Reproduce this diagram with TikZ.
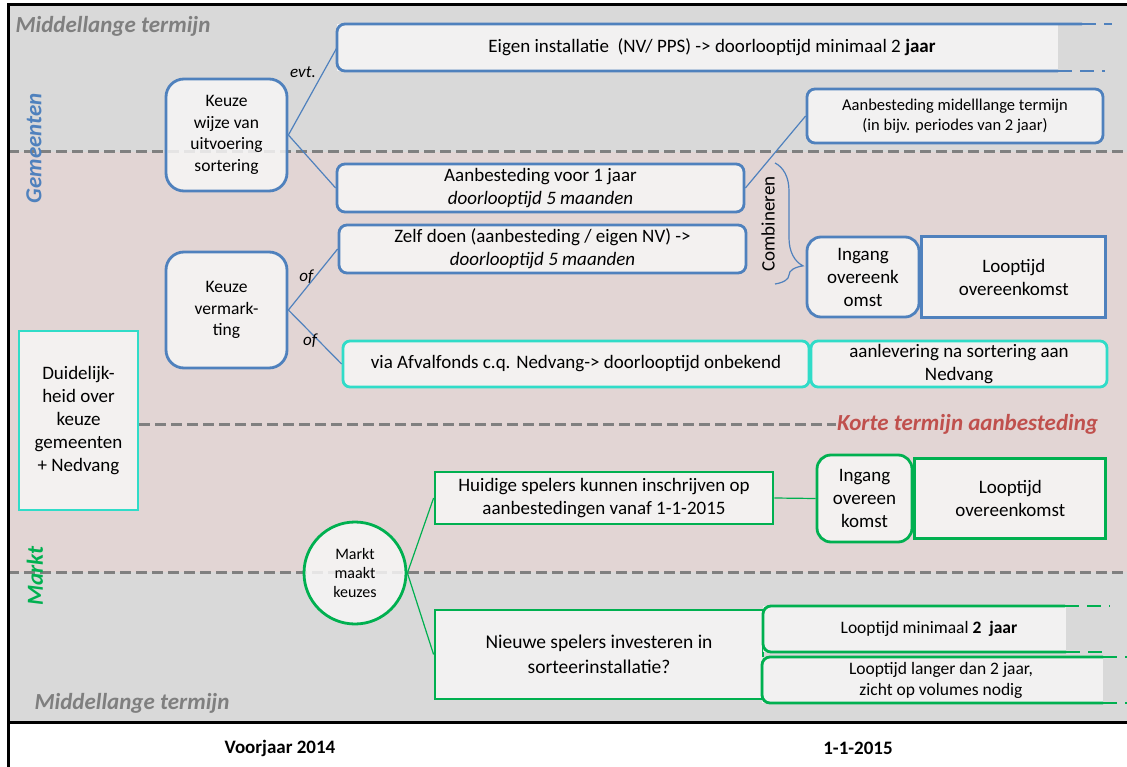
\documentclass[tikz,border=0pt]{standalone}
\usepackage{fontspec}
\setmainfont{Carlito}
\usetikzlibrary{positioning,decorations.pathreplacing}

\definecolor{gemblue}{HTML}{4F81BD}
\definecolor{turq}{HTML}{30DCC8}
\definecolor{marktgreen}{HTML}{00B050}
\definecolor{bandgray}{HTML}{D9D9D9}
\definecolor{bandpink}{HTML}{E2D5D4}
\definecolor{boxfill}{HTML}{F7F6F6}
\definecolor{linegray}{HTML}{808080}
\definecolor{labelgray}{HTML}{7F7F7F}
\definecolor{labelred}{HTML}{C0504D}

\begin{document}
\begin{tikzpicture}[x=1pt,y=-1pt,
    box/.style={fill=boxfill,fill opacity=0.85,text opacity=1,line width=2.8pt,
      align=center,inner sep=1pt,font=\fontsize{19}{23}\selectfont},
    bluebox/.style={box,draw=gemblue,rounded corners=8pt},
    bluesq/.style={box,draw=gemblue},
    keuze/.style={bluebox,rounded corners=18pt,minimum width=121pt,
      font=\fontsize{17.5}{21.5}\selectfont},
    turqbox/.style={box,draw=turq,rounded corners=7pt},
    greenbox/.style={box,draw=marktgreen},
    openbox/.style={box,fill=none,draw=none,outer sep=0pt},
    small/.style={font=\fontsize{16.5}{20.5}\selectfont},
    band/.style={linegray,line width=3pt,dash pattern=on 11pt off 5pt},
    ext/.style={line width=2pt,dash pattern=on 14pt off 8pt},
    outline/.style={line width=2.8pt,rounded corners=8pt},
    link/.style={line width=1.2pt},
    term/.style={font=\fontsize{23}{27}\selectfont\bfseries\itshape},
    lbl/.style={font=\fontsize{17}{20}\selectfont\itshape,inner sep=1pt}]

  \useasboundingbox (0,0) rectangle (1127,767);
  \fill[bandgray] (8,5) rectangle (1127,152);
  \fill[bandpink] (8,152) rectangle (1127,572);
  \fill[bandgray] (8,572) rectangle (1127,722);
  \draw[band] (8,152) -- (1127,152);
  \draw[band] (8,572) -- (1127,572);
  \draw[line width=3pt] (8,767) -- (8,5) -- (1127,5) (8,722) -- (1127,722);

  \node[term,labelgray,anchor=west] (mltop) at (12,26) {Middellange termijn};
  \node[term,labelgray,anchor=west] (mlbot) at (31,703) {Middellange termijn};
  \node[term,gemblue,rotate=90] (gem) at (34,148) {Gemeenten};
  \node[term,marktgreen,rotate=90] (markttxt) at (35,576) {Markt};
  \node[font=\fontsize{19}{23}\selectfont\bfseries] (voorjaar) at (280,748) {Voorjaar 2014};
  \node[font=\fontsize{19}{23}\selectfont\bfseries] (datum) at (858,748) {1-1-2015};

  \node[keuze,minimum height=112pt] (kwijze) at (226.5,135) {Keuze\\wijze van\\uitvoering\\sortering};
  \fill[boxfill,opacity=0.85] (337,24) rectangle (1058,71);
  \node[openbox,minimum width=750pt,minimum height=47pt] (inst) at (712,47.5)
    {Eigen installatie\ \ (NV/ PPS) -> doorlooptijd minimaal 2 \textbf{jaar}};
  \node[bluebox,small,minimum width=296pt,minimum height=54pt] (aanbmid) at (955,116)
    {Aanbesteding midelllange termijn\\(in bijv. periodes van 2 jaar)};
  \node[bluebox,minimum width=407pt,minimum height=48pt] (aanb1) at (540.5,188)
    {Aanbesteding voor 1 jaar\\\textit{doorlooptijd 5 maanden}};
  \node[bluebox,minimum width=407pt,minimum height=48pt] (zelf) at (542.5,249)
    {Zelf doen (aanbesteding / eigen NV) ->\\\textit{doorlooptijd 5 maanden}};
  \node[font=\fontsize{19}{23}\selectfont,rotate=90] (comb) at (768,224) {Combineren};
  \node[bluebox,rounded corners=14pt,minimum width=112pt,minimum height=80pt] (ingB) at (863,277)
    {Ingang\\overeenk\\omst};
  \node[bluesq,minimum width=184pt,minimum height=81pt,right=0pt of ingB] (loopB)
    {Looptijd\\overeenkomst};

  \node[keuze,minimum height=116pt] (kverm) at (226.5,310) {Keuze\\vermark-\\ting};
  \node[turqbox,minimum width=466pt,minimum height=46pt] (afval) at (576,364)
    {via Afvalfonds c.q. Nedvang-> doorlooptijd onbekend};
  \node[turqbox,minimum width=296pt,minimum height=46pt] (aanlev) at (959,364)
    {aanlevering na sortering aan\\Nedvang};
  \node[box,draw=turq,minimum width=119pt,minimum height=179pt] (duid) at (78.5,420.5)
    {Duidelijk-\\heid over\\keuze\\gemeenten\\+ Nedvang};
  \node[term,labelred,anchor=west,inner sep=1pt] (korte) at (836,424) {Korte termijn aanbesteding};

  \node[box,circle,draw=marktgreen,minimum size=102pt,inner sep=0pt,
    font=\fontsize{16}{19.5}\selectfont] (markt) at (355,573) {Markt\\maakt\\keuzes};
  \node[greenbox,minimum width=338pt,minimum height=52pt] (huidig) at (604,498)
    {Huidige spelers kunnen inschrijven op\\aanbestedingen vanaf 1-1-2015};
  \node[greenbox,rounded corners=14pt,minimum width=95pt,minimum height=87pt] (ingG) at (864.5,498.5)
    {Ingang\\overeen\\komst};
  \node[greenbox,minimum width=191pt,minimum height=80pt,right=0pt of ingG] (loopG)
    {Looptijd\\overeenkomst};
  \node[greenbox,minimum width=328pt,minimum height=89pt,
    font=\fontsize{19.5}{25}\selectfont] (nieuw) at (599,654.5)
    {Nieuwe spelers investeren in\\sorteerinstallatie?};
  \fill[boxfill,opacity=0.85] (763,606) rectangle (1066,652);
  \node[openbox,minimum width=332pt,minimum height=46pt,
    font=\fontsize{17.5}{21}\selectfont] (loop2) at (929,629)
    {Looptijd minimaal \textbf{2\ \ jaar}};
  \fill[boxfill,opacity=0.85] (762,657) rectangle (1103,703);
  \node[openbox,minimum width=358pt,minimum height=46pt,
    font=\fontsize{17.5}{21}\selectfont] (loop3) at (941,680)
    {Looptijd langer dan 2 jaar,\\zicht op volumes nodig};

  \draw[outline,gemblue] ([xshift=-5pt]inst.north east) -- (inst.north west)
    -- (inst.south west) -- ([xshift=-29pt]inst.south east);
  \draw[ext,gemblue] ([xshift=-5pt]inst.north east) -- ++(30,0)
    ([xshift=-29pt]inst.south east) -- ++(47,0);
  \draw[outline,marktgreen] ([xshift=-30pt]loop2.north east) -- (loop2.north west)
    -- (loop2.south west) -- ([xshift=-29pt]loop2.south east);
  \draw[ext,marktgreen] ([xshift=-30pt]loop2.north east) -- ++(45,0)
    ([xshift=-29pt]loop2.south east) -- ++(37,0);
  \draw[outline,marktgreen] ([xshift=-17pt]loop3.north east) -- (loop3.north west)
    -- (loop3.south west) -- ([xshift=-17pt]loop3.south east);
  \draw[ext,marktgreen] ([xshift=-17pt]loop3.north east) -- ++(24,0)
    ([xshift=-17pt]loop3.south east) -- ++(24,0);

  \path[link,draw=gemblue] (kwijze.east) edge node[lbl,pos=0.72,left=6pt] {evt.} (inst.west)
        (kwijze.east) edge (aanb1.west)
        (aanb1.east) edge (aanbmid.west)
        (kverm.east) edge node[lbl,pos=0.54,left] {of} (zelf.west)
        (kverm.east) edge node[lbl,pos=0.57,left] {of} (afval.west);
  \path[link,draw=marktgreen] (markt.east) edge (huidig.west)
        (markt.east) edge (nieuw.west)
        (huidig.east) edge (ingG.west);
  \draw[band] (duid.east |- korte.west) -- (korte.west);
  \draw[gemblue,line width=1.2pt,decorate,decoration={brace,amplitude=28pt,aspect=0.85}]
    (775,163) -- (775,284);

\end{tikzpicture}
\end{document}
